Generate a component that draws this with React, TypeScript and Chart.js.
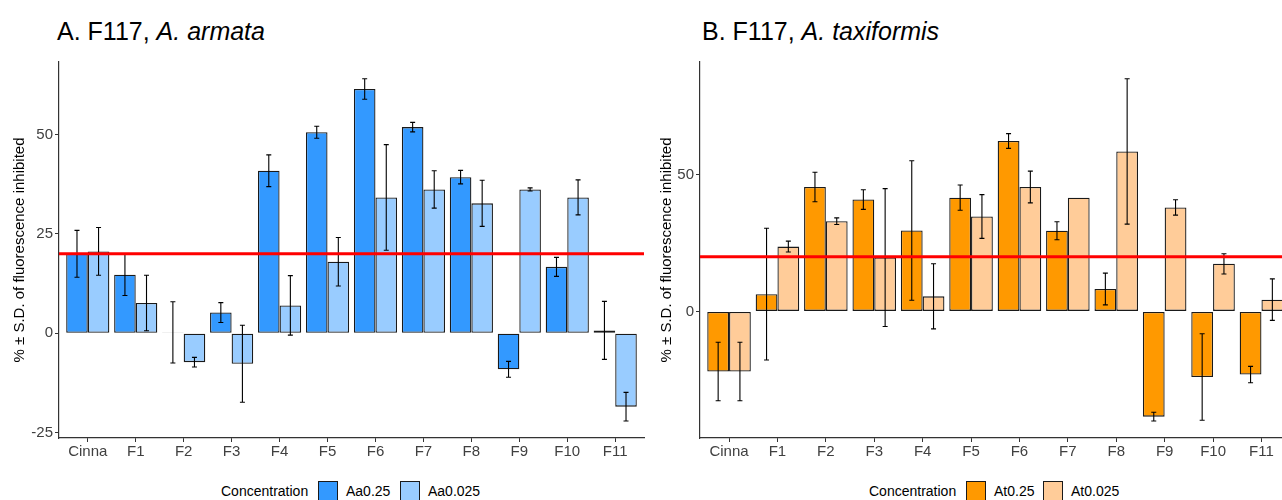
import React, { useEffect, useRef } from 'react';
import { Chart, registerables } from 'chart.js';

Chart.register(...registerables);

const categories = ['Cinna', 'F1', 'F2', 'F3', 'F4', 'F5', 'F6', 'F7', 'F8', 'F9', 'F10', 'F11'];

const aa025 = [20.0, 14.7, 0.2, 5.2, 40.9, 50.6, 61.5, 51.9, 39.3, -9.1, 16.7, 0.7];
const aa025Sd = [5.9, 5.2, 7.7, 2.5, 4.0, 1.5, 2.6, 1.2, 1.7, 2.0, 2.4, 7.3];
const aa0025 = [20.6, 7.6, -7.3, -7.7, 7.0, 18.0, 34.2, 36.2, 32.7, 36.2, 34.2, -18.5];
const aa0025Sd = [6.0, 7.0, 1.2, 9.7, 7.5, 6.1, 13.3, 4.7, 5.8, 0.4, 4.4, 3.6];

const at025 = [-22.0, 6.3, 45.5, 40.9, 29.6, 41.6, 62.3, 29.5, 8.2, -38.5, -24.0, -23.1];
const at025Sd = [10.7, 24.1, 5.4, 3.6, 25.5, 4.6, 2.7, 3.3, 5.8, 1.6, 15.8, 3.0];
const at0025 = [-22.0, 23.7, 33.0, 19.7, 5.5, 34.7, 45.5, 41.6, 58.5, 38.0, 17.4, 4.3];
const at0025Sd = [10.7, 2.0, 1.2, 25.2, 11.9, 8.0, 5.8, 0, 26.6, 2.8, 3.7, 7.6];

const threshold = 20;
const leftTicks = [-25, 0, 25, 50];
const rightTicks = [0, 50];
const yTitle = '% ± S.D. of fluorescence inhibited';

const FONT = '"Liberation Sans", Arial, Helvetica, sans-serif';

type PanelProps = {
  left: number;
  width: number;
  yAxisWidth: number;
  padRight: number;
  titlePad: number;
  yMin: number;
  yMax: number;
  ticks: number[];
  series: { label: string; values: number[]; sd: number[]; color: string }[];
};

const errorBarPlugin = {
  id: 'errorBars',
  afterDatasetsDraw(chart: any) {
    const ctx = chart.ctx;
    const y = chart.scales.y;
    ctx.save();
    ctx.strokeStyle = '#000';
    ctx.lineWidth = 1.1;
    chart.data.datasets.forEach((ds: any, i: number) => {
      const meta = chart.getDatasetMeta(i);
      meta.data.forEach((el: any, j: number) => {
        const v = ds.data[j].y;
        const sd = ds.sd[j];
        if (!sd) return;
        const x = el.x;
        const t = y.getPixelForValue(v + sd);
        const b = y.getPixelForValue(v - sd);
        ctx.beginPath();
        ctx.moveTo(x, t);
        ctx.lineTo(x, b);
        ctx.moveTo(x - 2.5, t);
        ctx.lineTo(x + 2.5, t);
        ctx.moveTo(x - 2.5, b);
        ctx.lineTo(x + 2.5, b);
        ctx.stroke();
      });
    });
    const ty = y.getPixelForValue(chart.options.plugins.errorBars.threshold);
    ctx.strokeStyle = '#ff0000';
    ctx.lineWidth = 3;
    ctx.beginPath();
    ctx.moveTo(chart.chartArea.left, ty);
    ctx.lineTo(chart.chartArea.right, ty);
    ctx.stroke();
    ctx.restore();
  },
};

function Panel(p: PanelProps) {
  const ref = useRef<HTMLCanvasElement | null>(null);
  useEffect(() => {
    if (!ref.current) return;
    const chart = new Chart(ref.current, {
      type: 'bar',
      data: {
        datasets: p.series.map((s) => ({
          label: s.label,
          data: s.values.map((v, i) => ({ x: i, y: v })),
          sd: s.sd,
          backgroundColor: s.color,
          borderColor: '#1a1a1a',
          borderWidth: 1.3,
          borderSkipped: false,
          categoryPercentage: 0.9,
          barPercentage: 1,
        })) as any,
      },
      plugins: [errorBarPlugin],
      options: {
        responsive: false,
        animation: false,
        devicePixelRatio: 1,
        layout: { padding: { top: 62, left: 0, right: p.padRight, bottom: 0 } },
        plugins: {
          legend: { display: false },
          tooltip: { enabled: false },
          errorBars: { threshold },
        } as any,
        scales: {
          x: {
            type: 'linear',
            min: -0.6,
            max: categories.length - 0.4,
            offset: false,
            afterBuildTicks: (s: any) => {
              s.ticks = categories.map((_, i) => ({ value: i }));
            },
            afterFit: (s: any) => {
              s.height = 32;
            },
            ticks: {
              autoSkip: false,
              maxRotation: 0,
              padding: 1,
              color: '#404040',
              font: { family: FONT, size: 15 },
              callback: (v: any) => categories[v as number] ?? '',
            },
            grid: { display: true, drawOnChartArea: false, offset: false, tickLength: 4, color: '#333', lineWidth: 1 },
            border: { display: true, color: '#333', width: 1.2 },
          },
          y: {
            type: 'linear',
            min: p.yMin,
            max: p.yMax,
            afterBuildTicks: (s: any) => {
              s.ticks = p.ticks.map((v) => ({ value: v }));
            },
            afterFit: (s: any) => {
              s.width = p.yAxisWidth;
            },
            ticks: {
              padding: 2,
              color: '#404040',
              font: { family: FONT, size: 15 },
            },
            grid: { display: true, drawOnChartArea: false, tickLength: 4, color: '#333', lineWidth: 1 },
            border: { display: true, color: '#333', width: 1.2 },
            title: {
              display: true,
              text: yTitle,
              color: '#000',
              font: { family: FONT, size: 15 },
              padding: { top: p.titlePad, bottom: 0 },
            },
          },
        },
      } as any,
    });
    return () => chart.destroy();
  }, []);
  return (
    <canvas
      ref={ref}
      width={p.width}
      height={470}
      style={{ position: 'absolute', left: p.left, top: 0, width: p.width, height: 470 }}
    />
  );
}

function LegendKey({ left, color, label }: { left: number; color: string; label: string }) {
  return (
    <>
      <div
        style={{
          position: 'absolute',
          left,
          top: 481,
          width: 20,
          height: 20,
          background: color,
          border: '1.3px solid #1a1a1a',
          boxSizing: 'border-box',
        }}
      />
      <div style={{ position: 'absolute', left: left + 28, top: 483, fontSize: 14, lineHeight: '16px' }}>{label}</div>
    </>
  );
}

export default function App() {
  return (
    <div
      style={{
        position: 'fixed',
        left: 0,
        top: 0,
        width: 1282,
        height: 500,
        overflow: 'hidden',
        background: '#fff',
        fontFamily: FONT,
        color: '#000',
      }}
    >
      <div style={{ position: 'absolute', left: 57, top: 19, fontSize: 25, lineHeight: '25px', whiteSpace: 'nowrap' }}>
        A. F117, <i>A. armata</i>
      </div>
      <div style={{ position: 'absolute', left: 702, top: 19, fontSize: 25, lineHeight: '25px', whiteSpace: 'nowrap' }}>
        B. F117, <i>A. taxiformis</i>
      </div>
      <Panel
        left={0}
        width={650}
        yAxisWidth={59}
        padRight={6}
        titlePad={11}
        yMin={-26.4}
        yMax={68.3}
        ticks={leftTicks}
        series={[
          { label: 'Aa0.25', values: aa025, sd: aa025Sd, color: '#3399ff' },
          { label: 'Aa0.025', values: aa0025, sd: aa0025Sd, color: '#99ccff' },
        ]}
      />
      <Panel
        left={650}
        width={700}
        yAxisWidth={50}
        padRight={59.5}
        titlePad={7.5}
        yMin={-46.3}
        yMax={91.2}
        ticks={rightTicks}
        series={[
          { label: 'At0.25', values: at025, sd: at025Sd, color: '#ff9900' },
          { label: 'At0.025', values: at0025, sd: at0025Sd, color: '#ffcc99' },
        ]}
      />
      <div style={{ position: 'absolute', left: 221, top: 483, fontSize: 14, lineHeight: '16px' }}>Concentration</div>
      <LegendKey left={318} color="#3399ff" label="Aa0.25" />
      <LegendKey left={400} color="#99ccff" label="Aa0.025" />
      <div style={{ position: 'absolute', left: 869, top: 483, fontSize: 14, lineHeight: '16px' }}>Concentration</div>
      <LegendKey left={966} color="#ff9900" label="At0.25" />
      <LegendKey left={1043} color="#ffcc99" label="At0.025" />
    </div>
  );
}
